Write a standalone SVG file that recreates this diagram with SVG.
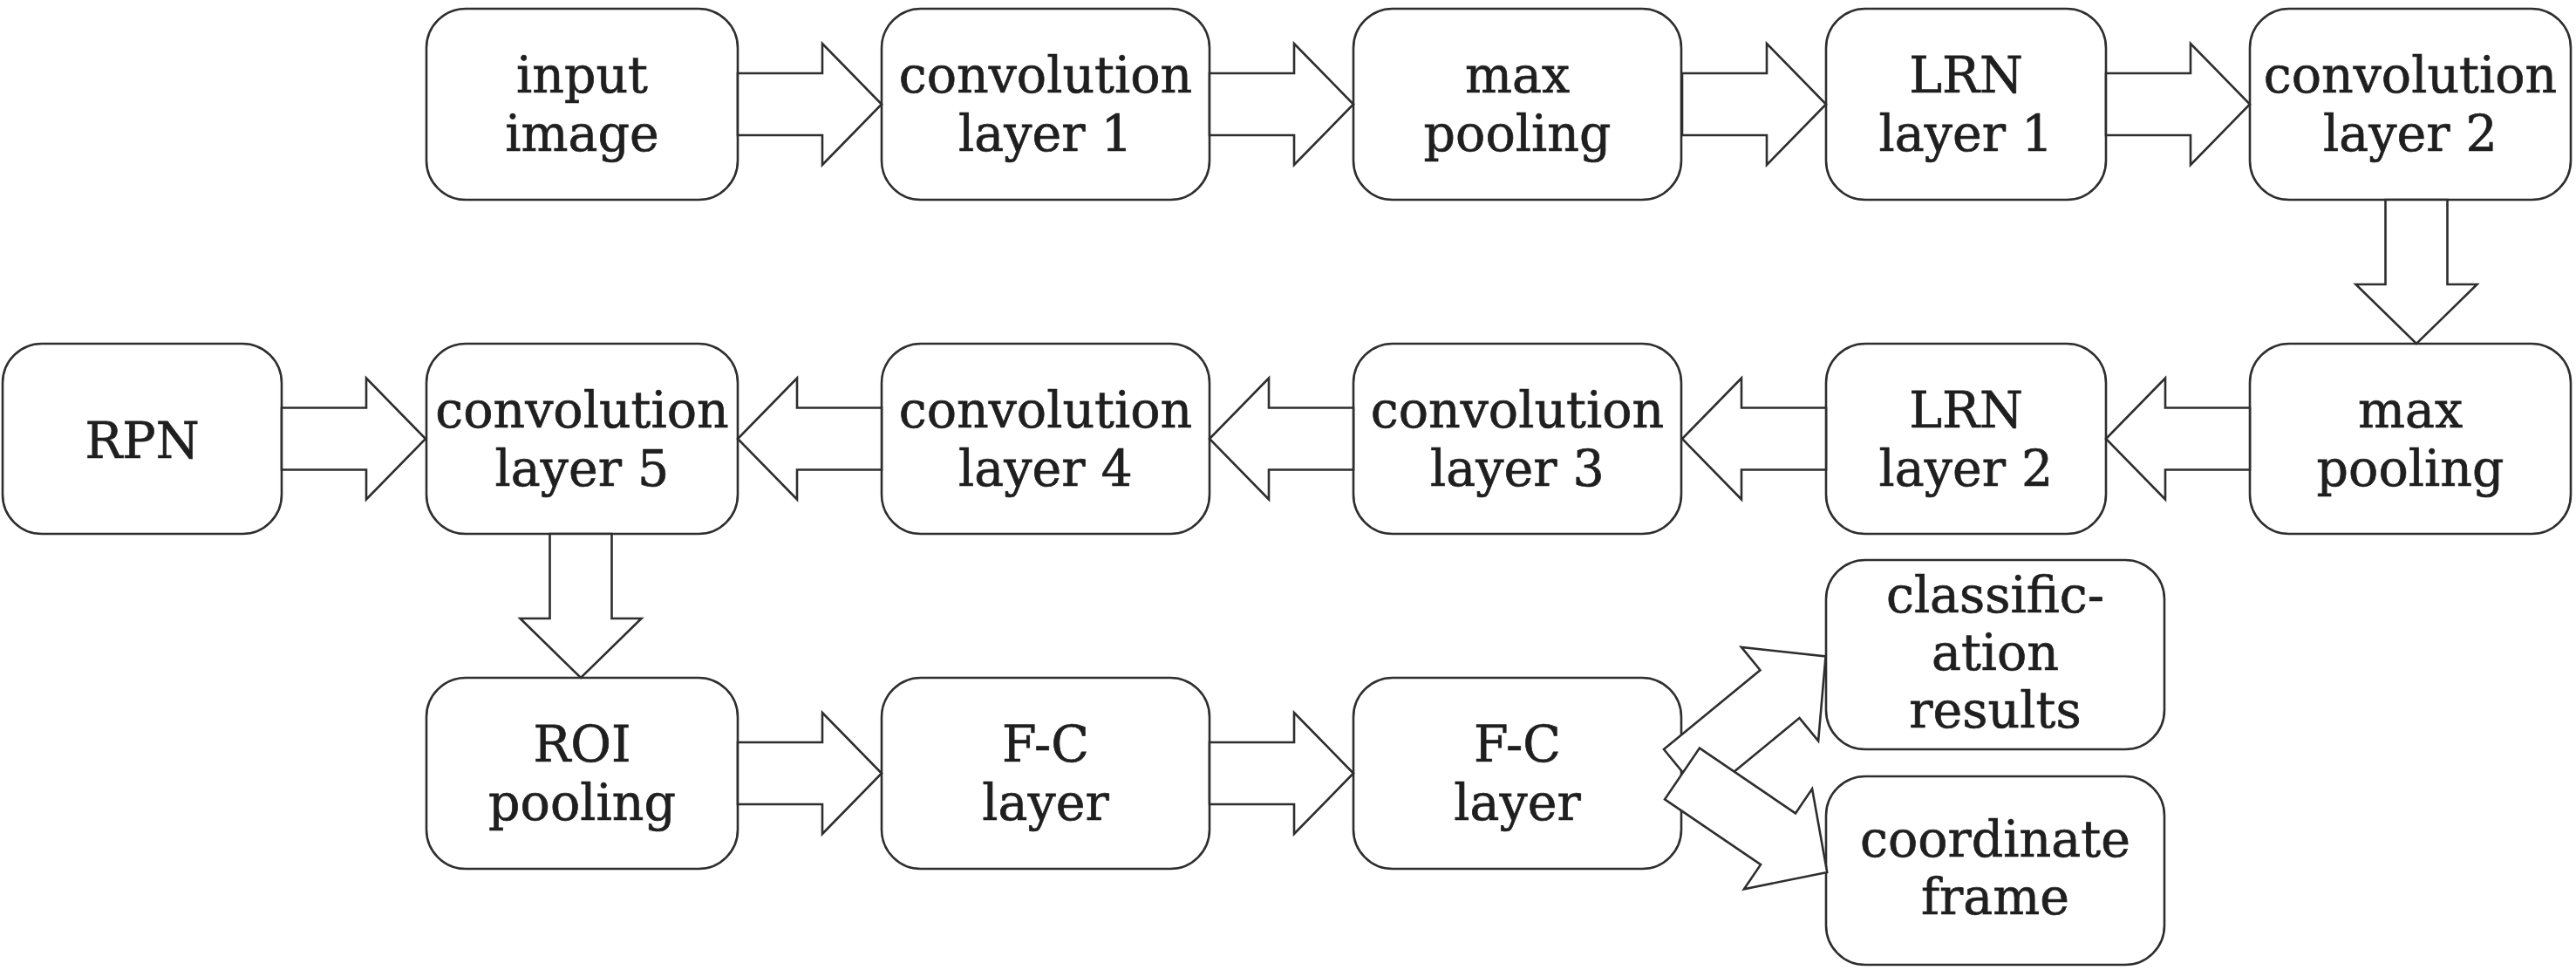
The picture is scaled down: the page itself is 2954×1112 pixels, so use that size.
<svg xmlns="http://www.w3.org/2000/svg" width="2954" height="1112" viewBox="0 0 2954 1112">
<style>
.box{fill:#fff;stroke:#2e2e2e;stroke-width:2.6}
.arr{fill:#fff;stroke:#2e2e2e;stroke-width:2.6;stroke-linejoin:miter}
text{font-family:"DejaVu Serif","Liberation Serif",serif;font-size:57px;fill:#1f1f1f;stroke:#1f1f1f;stroke-width:0.7;text-anchor:middle}
</style>
<defs>
<path id="arr" d="M0,-35.5 H97 V-69.5 L165,0 L97,69.5 V35.5 H0 Z"/>
</defs>
<rect width="2954" height="1112" fill="#fff"/>
<g id="n-input"><rect class="box" x="489" y="10" width="357" height="219" rx="45"/><text x="667.5" y="106">input</text><text x="667.5" y="173">image</text></g>
<g id="n-conv1"><rect class="box" x="1011" y="10" width="376" height="219" rx="45"/><text x="1199" y="106">convolution</text><text x="1199" y="173">layer 1</text></g>
<g id="n-max1"><rect class="box" x="1552" y="10" width="376" height="219" rx="45"/><text x="1740" y="106">max</text><text x="1740" y="173">pooling</text></g>
<g id="n-lrn1"><rect class="box" x="2094" y="10" width="321" height="219" rx="45"/><text x="2254.5" y="106">LRN</text><text x="2254.5" y="173">layer 1</text></g>
<g id="n-conv2"><rect class="box" x="2580" y="10" width="368" height="219" rx="45"/><text x="2764" y="106">convolution</text><text x="2764" y="173">layer 2</text></g>
<g id="n-rpn"><rect class="box" x="3" y="394" width="320" height="218" rx="45"/><text x="163" y="525">RPN</text></g>
<g id="n-conv5"><rect class="box" x="489" y="394" width="357" height="218" rx="45"/><text x="667.5" y="490">convolution</text><text x="667.5" y="557">layer 5</text></g>
<g id="n-conv4"><rect class="box" x="1011" y="394" width="376" height="218" rx="45"/><text x="1199" y="490">convolution</text><text x="1199" y="557">layer 4</text></g>
<g id="n-conv3"><rect class="box" x="1552" y="394" width="376" height="218" rx="45"/><text x="1740" y="490">convolution</text><text x="1740" y="557">layer 3</text></g>
<g id="n-lrn2"><rect class="box" x="2094" y="394" width="321" height="218" rx="45"/><text x="2254.5" y="490">LRN</text><text x="2254.5" y="557">layer 2</text></g>
<g id="n-max2"><rect class="box" x="2580" y="394" width="368" height="218" rx="45"/><text x="2764" y="490">max</text><text x="2764" y="557">pooling</text></g>
<g id="n-roi"><rect class="box" x="489" y="777" width="357" height="219" rx="45"/><text x="667.5" y="873">ROI</text><text x="667.5" y="940">pooling</text></g>
<g id="n-fc1"><rect class="box" x="1011" y="777" width="376" height="219" rx="45"/><text x="1199" y="873">F-C</text><text x="1199" y="940">layer</text></g>
<g id="n-fc2"><rect class="box" x="1552" y="777" width="376" height="219" rx="45"/><text x="1740" y="873">F-C</text><text x="1740" y="940">layer</text></g>
<g id="n-cls"><rect class="box" x="2094" y="642" width="388" height="217" rx="45"/><text x="2288" y="702">classific-</text><text x="2288" y="768">ation</text><text x="2288" y="834">results</text></g>
<g id="n-coord"><rect class="box" x="2094" y="890" width="388" height="216" rx="45"/><text x="2288" y="982">coordinate</text><text x="2288" y="1048">frame</text></g>
<g id="connectors">
<use href="#arr" class="arr" transform="translate(846,119.5)"/>
<use href="#arr" class="arr" transform="translate(1387,119.5)"/>
<use href="#arr" class="arr" transform="translate(1929,119.5)"/>
<use href="#arr" class="arr" transform="translate(2415,119.5)"/>
<use href="#arr" class="arr" transform="translate(2771,229) rotate(90)"/>
<use href="#arr" class="arr" transform="translate(323,503)"/>
<use href="#arr" class="arr" transform="translate(1011,503) rotate(180)"/>
<use href="#arr" class="arr" transform="translate(1552,503) rotate(180)"/>
<use href="#arr" class="arr" transform="translate(2094,503) rotate(180)"/>
<use href="#arr" class="arr" transform="translate(2580,503) rotate(180)"/>
<use href="#arr" class="arr" transform="translate(666,612) rotate(90)"/>
<use href="#arr" class="arr" transform="translate(846,886.5)"/>
<use href="#arr" class="arr" transform="translate(1387,886.5)"/>
<path class="arr" d="M0,-35.5 H143 V-69.5 L211,0 L143,69.5 V35.5 H0 Z" transform="translate(1930.5,886.4) rotate(-39.4)"/>
<path class="arr" d="M0,-35.5 H133 V-69.5 L201,0 L133,69.5 V35.5 H0 Z" transform="translate(1929,887) rotate(34.2)"/>
</g>
</svg>
